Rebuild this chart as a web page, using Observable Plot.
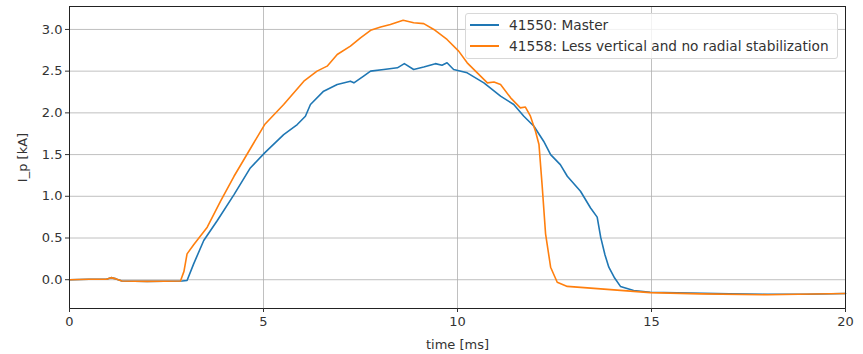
<!DOCTYPE html>
<html>
<head>
<meta charset="utf-8">
<script src="https://cdn.jsdelivr.net/npm/d3@7"></script>
<script src="https://cdn.jsdelivr.net/npm/@observablehq/plot@0.6"></script>
<style>
  html, body { margin: 0; padding: 0; background: #fff; }
  #wrap { position: relative; width: 863px; height: 354px; font-family: "DejaVu Sans", sans-serif; }
  #legend { position: absolute; left: 465px; top: 13px; width: 373px; height: 46px; box-sizing: border-box;
            border: 1px solid #d8d8d8; border-radius: 3px; background: rgba(255,255,255,0.8); font-size: 13.7px; color: #333; }
  .row { position: absolute; left: 4px; height: 16px; display: flex; align-items: center; white-space: nowrap; }
  .sw { width: 29px; height: 2px; margin-right: 10px; }
</style>
</head>
<body>
<div id="wrap"></div>
<script>
// Series 41550: Master
const series1Name = "41550: Master";
const t1 = [0, 0.5, 0.95, 1.07, 1.2, 1.35, 2.0, 2.9, 3.03, 3.2, 3.46, 3.81, 4.24, 4.66, 5.03, 5.52, 5.87, 6.08, 6.21, 6.55, 6.9, 7.24, 7.33, 7.58, 7.76, 8.1, 8.45, 8.63, 8.87, 9.13, 9.43, 9.6, 9.73, 9.9, 10.25, 10.68, 11.11, 11.45, 11.71, 11.97, 12.22, 12.4, 12.65, 12.83, 13.17, 13.43, 13.6, 13.69, 13.8, 13.9, 14.05, 14.2, 14.54, 14.97, 16.0, 17.0, 18.0, 19.0, 20.0];
const y1 = [0.0, 0.005, 0.005, 0.025, 0.01, -0.015, -0.02, -0.015, -0.01, 0.19, 0.47, 0.71, 1.02, 1.34, 1.52, 1.74, 1.86, 1.96, 2.10, 2.26, 2.34, 2.38, 2.36, 2.44, 2.50, 2.52, 2.54, 2.59, 2.52, 2.55, 2.59, 2.57, 2.60, 2.52, 2.48, 2.36, 2.20, 2.10, 1.96, 1.84, 1.66, 1.50, 1.38, 1.24, 1.06, 0.86, 0.75, 0.51, 0.30, 0.15, 0.02, -0.08, -0.13, -0.15, -0.16, -0.17, -0.175, -0.175, -0.165];

// Series 41558: Less vertical and no radial stabilization
const series2Name = "41558: Less vertical and no radial stabilization";
const t2 = [0, 0.5, 0.95, 1.07, 1.2, 1.35, 2.0, 2.86, 2.95, 3.03, 3.2, 3.55, 3.89, 4.24, 4.66, 5.03, 5.52, 6.04, 6.38, 6.64, 6.9, 7.24, 7.5, 7.76, 8.02, 8.27, 8.6, 8.87, 9.13, 9.39, 9.73, 10.03, 10.25, 10.51, 10.77, 10.94, 11.11, 11.37, 11.62, 11.75, 11.88, 12.01, 12.1, 12.18, 12.27, 12.4, 12.57, 12.83, 13.69, 14.54, 14.97, 16.26, 17.98, 20.0];
const y2 = [0.0, 0.005, 0.005, 0.025, 0.01, -0.015, -0.02, -0.015, 0.1, 0.31, 0.42, 0.63, 0.94, 1.24, 1.57, 1.86, 2.10, 2.38, 2.50, 2.56, 2.70, 2.80, 2.90, 2.99, 3.03, 3.06, 3.11, 3.08, 3.07, 3.00, 2.88, 2.74, 2.60, 2.48, 2.36, 2.37, 2.34, 2.18, 2.06, 2.07, 1.96, 1.78, 1.62, 1.14, 0.55, 0.15, -0.03, -0.08, -0.11, -0.14, -0.155, -0.17, -0.18, -0.165];

const xTicks = [0, 5, 10, 15, 20];
const yTicks = [0.0, 0.5, 1.0, 1.5, 2.0, 2.5, 3.0];
const colors = ["#1f77b4", "#ff7f0e"];

const data = [
  ...t1.map((t, i) => ({t, v: y1[i], s: series1Name})),
  ...t2.map((t, i) => ({t, v: y2[i], s: series2Name}))
];

const chart = Plot.plot({
  width: 863,
  height: 354,
  marginLeft: 69,
  marginRight: 18,
  marginTop: 6,
  marginBottom: 46,
  style: { fontFamily: "DejaVu Sans, sans-serif", fontSize: "13px", color: "#333", background: "#fff" },
  x: { domain: [0, 20] },
  y: { domain: [-0.345, 3.275] },
  color: { domain: [series1Name, series2Name], range: colors },
  marks: [
    Plot.gridX(xTicks, { stroke: "#b0b0b0", strokeOpacity: 1, strokeWidth: 0.8 }),
    Plot.gridY(yTicks, { stroke: "#b0b0b0", strokeOpacity: 1, strokeWidth: 0.8 }),
    Plot.lineY(data, { x: "t", y: "v", z: "s", stroke: "s", strokeWidth: 1.6 }),
    Plot.frame({ stroke: "#222", strokeWidth: 1 }),
    Plot.axisX({ ticks: xTicks, tickSize: 4, tickPadding: 4, tickFormat: d3.format("d"), fontSize: 13, label: "time [ms]", labelAnchor: "center", labelArrow: "none", labelOffset: 40 }),
    Plot.axisY({ ticks: yTicks, tickSize: 4, tickPadding: 3, tickFormat: d3.format(".1f"), fontSize: 13, label: "I_p [kA]", labelAnchor: "center", labelArrow: "none", labelOffset: 52 })
  ]
});

const wrap = document.getElementById("wrap");
wrap.appendChild(chart);

const legend = document.createElement("div");
legend.id = "legend";
[series1Name, series2Name].forEach((name, i) => {
  const row = document.createElement("div");
  row.className = "row";
  row.style.top = (i === 0 ? 3 : 24) + "px";
  const sw = document.createElement("span");
  sw.className = "sw";
  sw.style.background = colors[i];
  const tx = document.createElement("span");
  tx.textContent = name;
  row.appendChild(sw);
  row.appendChild(tx);
  legend.appendChild(row);
});
wrap.appendChild(legend);
</script>
</body>
</html>
